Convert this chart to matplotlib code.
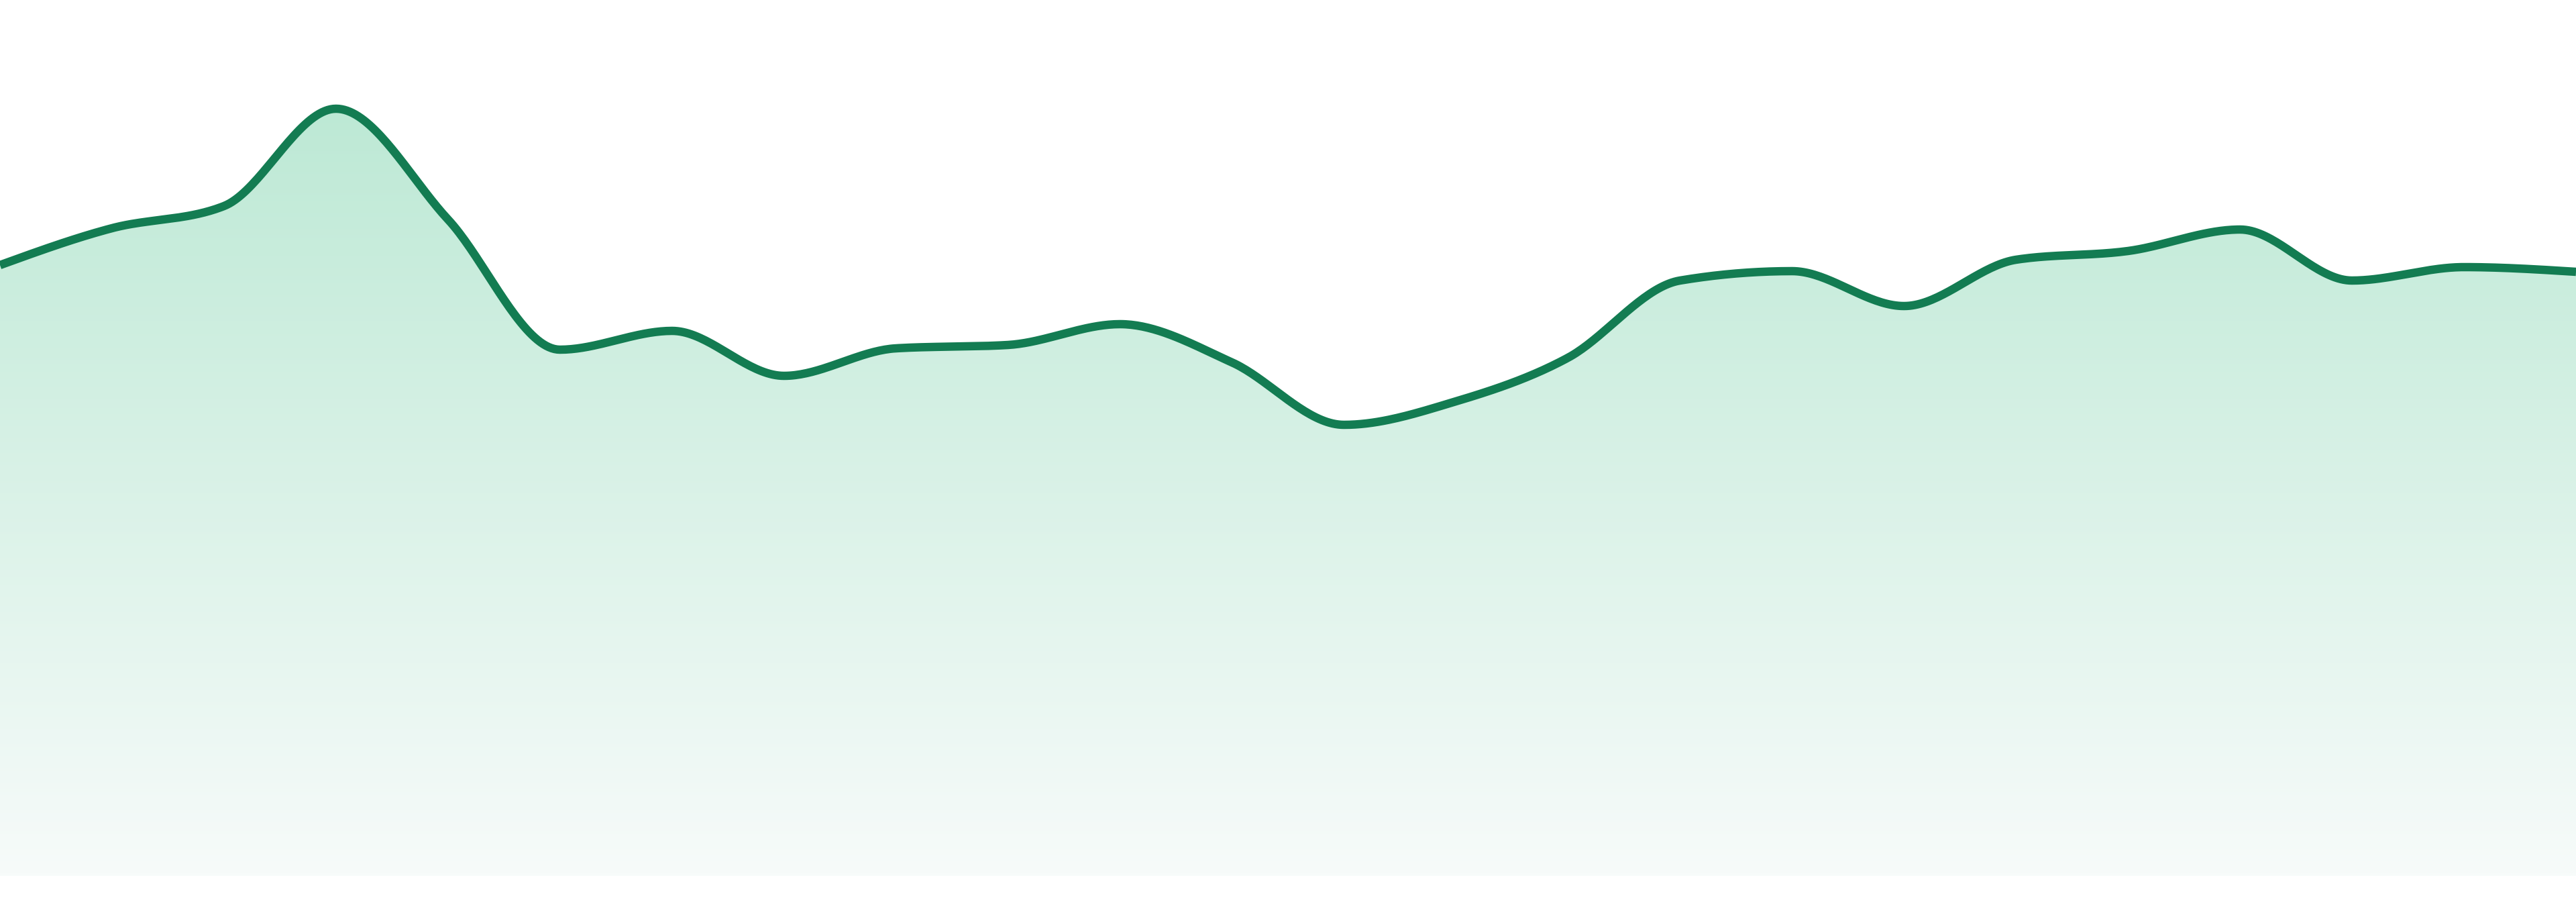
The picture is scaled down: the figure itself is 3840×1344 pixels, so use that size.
import matplotlib
matplotlib.use("Agg")
import matplotlib.pyplot as plt
import numpy as np
from matplotlib.colors import LinearSegmentedColormap

# 24 evenly spaced samples, height above the bottom of the area
steps = list(range(24))
values = [910, 965, 998, 1143, 978, 784, 812, 745, 786, 791, 822, 765,
          672, 707, 772, 887, 901, 849, 918, 931, 963, 887, 907, 900]

line_color = "#137c52"
fill_top = "#bde9d5"
fill_bottom = "#f7fbfa"


def monotone_curve(x, y, n=40):
    # monotone cubic interpolation (like d3 curveMonotoneX)
    x = np.asarray(x, dtype=float)
    y = np.asarray(y, dtype=float)
    h = np.diff(x)
    s = np.diff(y) / h
    t = np.zeros(len(x))
    for i in range(1, len(x) - 1):
        if s[i - 1] * s[i] <= 0:
            t[i] = 0
        else:
            p = (s[i - 1] * h[i] + s[i] * h[i - 1]) / (h[i - 1] + h[i])
            t[i] = (np.sign(s[i - 1]) + np.sign(s[i])) * min(abs(s[i - 1]), abs(s[i]), 0.5 * abs(p))
    t[0] = (3 * s[0] - t[1]) / 2 if len(x) > 2 else s[0]
    t[-1] = (3 * s[-1] - t[-2]) / 2 if len(x) > 2 else s[-1]
    xs, ys = [], []
    for i in range(len(x) - 1):
        u = np.linspace(0, 1, n, endpoint=False)
        h00 = 2 * u**3 - 3 * u**2 + 1
        h10 = u**3 - 2 * u**2 + u
        h01 = -2 * u**3 + 3 * u**2
        h11 = u**3 - u**2
        xs.append(x[i] + u * h[i])
        ys.append(h00 * y[i] + h10 * h[i] * t[i] + h01 * y[i + 1] + h11 * h[i] * t[i + 1])
    xs.append([x[-1]])
    ys.append([y[-1]])
    return np.concatenate(xs), np.concatenate(ys)


fig = plt.figure(figsize=(38.4, 13.44), dpi=100)
ax = fig.add_axes([0, 39 / 1344, 1, 1305 / 1344])
ax.set_xlim(steps[0], steps[-1])
ax.set_ylim(0, 1305)
ax.axis("off")

cx, cy = monotone_curve(steps, values)

# gradient fill under the curve
area = ax.fill_between(cx, cy, 0, color="none", lw=0)
cmap = LinearSegmentedColormap.from_list("fade", [fill_bottom, fill_top])
grad = np.linspace(0, 1, 256).reshape(-1, 1)
img = ax.imshow(grad, cmap=cmap, aspect="auto", origin="lower",
                extent=[steps[0], steps[-1], 0, max(values)], zorder=1)
img.set_clip_path(area.get_paths()[0], transform=ax.transData)

ax.plot(cx, cy, color=line_color, lw=9, solid_capstyle="butt", zorder=3)

fig.savefig("out.png", dpi=100, facecolor="white")
